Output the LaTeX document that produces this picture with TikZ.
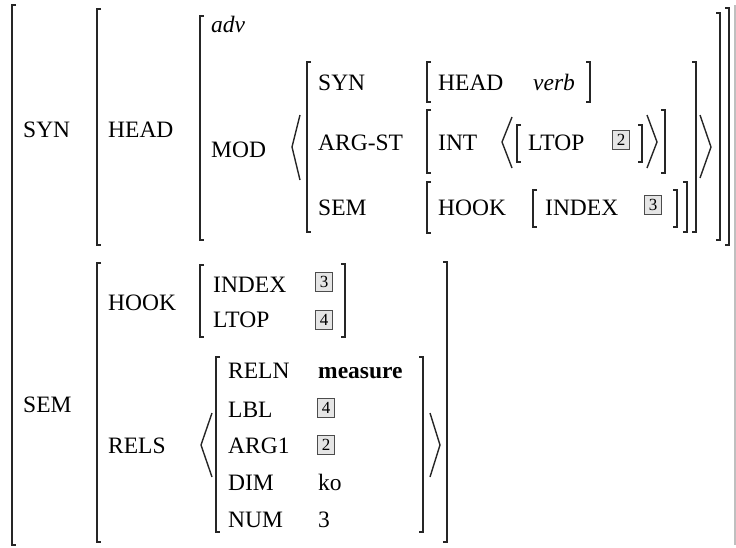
\documentclass[tikz,border=0pt]{standalone}
\usepackage{fontspec}
\setmainfont{Liberation Serif}
\begin{document}
\begin{tikzpicture}[x=1pt,y=-1pt,
  brk/.style={line width=1.5pt,draw=black!85,line cap=butt},
  ang/.style={line width=1.4pt,draw=black!85},
  lab/.style={anchor=base west,inner sep=0pt,font=\fontsize{23.5}{27}\selectfont},
  tagbox/.style={draw=black!70,fill=black!10,line width=0.9pt,inner sep=0pt,minimum width=17pt,minimum height=19pt,font=\fontsize{17}{17}\selectfont}]
\useasboundingbox (0,0) rectangle (736,547);
\newcommand\lbk[3]{\draw[brk] (#1+4,#2) -- (#1,#2) -- (#1,#3) -- (#1+4,#3);}
\newcommand\rbk[3]{\draw[brk] (#1-4,#2) -- (#1,#2) -- (#1,#3) -- (#1-4,#3);}
% left brackets
\lbk{12}{5}{545}
\lbk{97}{9}{245}
\lbk{200}{16}{240}
\lbk{307}{62}{232}
\lbk{427}{62}{102}
\lbk{427}{110}{173}
\lbk{517}{125}{162}
\lbk{427}{182}{233}
\lbk{533}{190}{227}
\lbk{97}{263}{542}
\lbk{200}{265}{337}
\lbk{216}{357}{532}
% right brackets
\rbk{590}{62}{102}
\rbk{642}{125}{162}
\rbk{665}{110}{173}
\rbk{677}{190}{227}
\rbk{687}{182}{232}
\rbk{696}{62}{232}
\rbk{720}{13}{240}
\rbk{729}{8}{245}
\draw[line width=1.2pt,draw=black!25] (735,5) -- (735,545);
\rbk{345}{264}{337}
\rbk{423}{357}{532}
\rbk{447}{262}{542}
% angle brackets
\draw[ang] (300,115) -- (292,147) -- (300,180);
\draw[ang] (700,115) -- (711,147) -- (700,178);
\draw[ang] (512,117) -- (502,142) -- (512,168);
\draw[ang] (647,115) -- (657,142) -- (647,168);
\draw[ang] (212,413) -- (201,445) -- (212,477);
\draw[ang] (430,413) -- (440,445) -- (430,477);
% SYN part
\node[lab] (synL) at (23,137) {SYN};
\node[lab] (headL) at (108,137) {HEAD};
\node[lab] (adv) at (211,32) {\itshape adv};
\node[lab] (modL) at (211,157) {MOD};
\node[lab] (isyn) at (318,90) {SYN};
\node[lab] (ihead) at (438,90) {HEAD};
\node[lab] (verb) at (533,90) {\itshape verb};
\node[lab] (argst) at (318,150) {ARG-ST};
\node[lab] (int) at (438,150) {INT};
\node[lab] (iltop) at (528,150) {LTOP};
\node[tagbox] (tagA) at (621,140) {2};
\node[lab] (isem) at (318,215) {SEM};
\node[lab] (ihook) at (438,215) {HOOK};
\node[lab] (iindex) at (545,215) {INDEX};
\node[tagbox] (tagB) at (653,205) {3};
% SEM part
\node[lab] (semL) at (23,412) {SEM};
\node[lab] (hookL) at (108,310) {HOOK};
\node[lab] (indexL) at (213,292) {INDEX};
\node[tagbox] (tagC) at (324,282) {3};
\node[lab] (ltopL) at (213,327) {LTOP};
\node[tagbox] (tagD) at (324,320) {4};
\node[lab] (relsL) at (108,453) {RELS};
\node[lab] (reln) at (228,378) {RELN};
\node[lab] (meas) at (318,378) {\bfseries measure};
\node[lab] (lbl) at (228,417) {LBL};
\node[tagbox] (tagE) at (326,408) {4};
\node[lab] (arg1) at (228,453) {ARG1};
\node[tagbox] (tagF) at (326,445) {2};
\node[lab] (dim) at (228,490) {DIM};
\node[lab] (ko) at (318,490) {ko};
\node[lab] (num) at (228,527) {NUM};
\node[lab] (three) at (318,527) {3};
\end{tikzpicture}
\end{document}
